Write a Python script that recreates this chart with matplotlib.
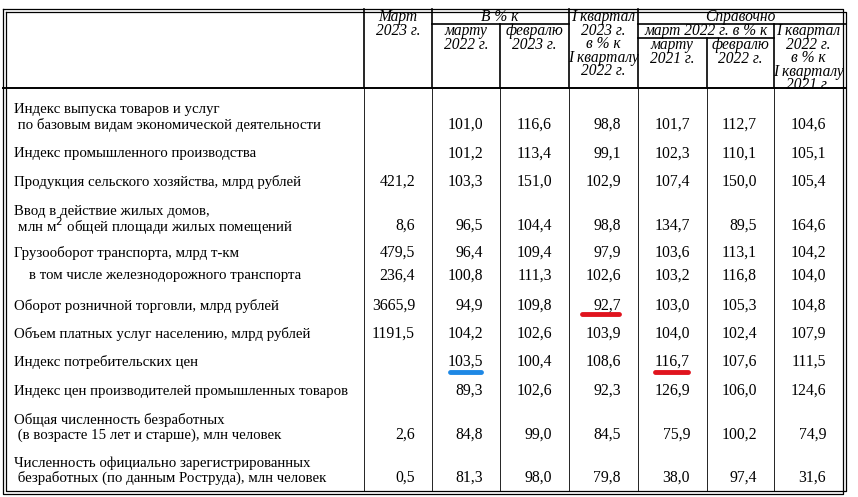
import matplotlib
matplotlib.use("Agg")
import matplotlib.pyplot as plt

labels = [
    ["Индекс выпуска товаров и услуг", " по базовым видам экономической деятельности"],
    ["Индекс промышленного производства"],
    ["Продукция сельского хозяйства, млрд рублей"],
    ["Ввод в действие жилых домов,", " млн м$^2$ общей площади жилых помещений"],
    ["Грузооборот транспорта, млрд т-км"],
    ["    в том числе железнодорожного транспорта"],
    ["Оборот розничной торговли, млрд рублей"],
    ["Объем платных услуг населению, млрд рублей"],
    ["Индекс потребительских цен"],
    ["Индекс цен производителей промышленных товаров"],
    ["Общая численность безработных", " (в возрасте 15 лет и старше), млн человек"],
    ["Численность официально зарегистрированных", " безработных (по данным Роструда), млн человек"],
]
mar2023 = ["", "", "421,2", "8,6", "479,5", "236,4", "3665,9", "1191,5", "", "", "2,6", "0,5"]
to_mar2022 = ["101,0", "101,2", "103,3", "96,5", "96,4", "100,8", "94,9", "104,2", "103,5", "89,3", "84,8", "81,3"]
to_feb2023 = ["116,6", "113,4", "151,0", "104,4", "109,4", "111,3", "109,8", "102,6", "100,4", "102,6", "99,0", "98,0"]
q1_2023 = ["98,8", "99,1", "102,9", "98,8", "97,9", "102,6", "92,7", "103,9", "108,6", "92,3", "84,5", "79,8"]
ref_mar2021 = ["101,7", "102,3", "107,4", "134,7", "103,6", "103,2", "103,0", "104,0", "116,7", "126,9", "75,9", "38,0"]
ref_feb2022 = ["112,7", "110,1", "150,0", "89,5", "113,1", "116,8", "105,3", "102,4", "107,6", "106,0", "100,2", "97,4"]
ref_q1_2022 = ["104,6", "105,1", "105,4", "164,6", "104,2", "104,0", "104,8", "107,9", "111,5", "124,6", "74,9", "31,6"]

cols = [mar2023, to_mar2022, to_feb2023, q1_2023, ref_mar2021, ref_feb2022, ref_q1_2022]
row_y = [125, 154, 182, 226, 253, 276, 306, 334, 362, 391, 435, 478]
xs = [3, 364, 432, 500, 569, 638, 707, 774, 843]

fig = plt.figure(figsize=(8.58, 4.97), dpi=100)
ax = fig.add_axes([0, 0, 1, 1])
ax.set_xlim(0, 858); ax.set_ylim(497, 0); ax.axis("off")
fs = 10.7
fsn = 11.3
fsh = 11.2
ff = "Liberation Serif"
lw = 0.9
for d in (0, 3):
    ax.plot([xs[0]+d, xs[-1]+d, xs[-1]+d, xs[0]+d, xs[0]+d],
            [9+d, 9+d, 494-d, 494-d, 9+d], color="black", lw=lw)
ax.plot([xs[0], xs[-1]+3], [88, 88], color="black", lw=1.4)
for x in xs[1:-1]:
    top = 9
    if x in (500, 774): top = 24
    if x == 707: top = 38
    ax.plot([x, x], [top, 88], color="black", lw=1.2)
    ax.plot([x, x], [88, 491], color="black", lw=0.6)
ax.plot([432, 569], [24, 24], color="black", lw=1.2)
ax.plot([638, 846], [24, 24], color="black", lw=1.2)
ax.plot([638, 774], [38, 38], color="black", lw=1.2)

hd = dict(fontsize=fsh, family=ff, style="italic", ha="center", va="top", linespacing=0.8)
ax.text(398, 9, "Март\n2023 г.", **hd)
ax.text(500, 9, "В % к", **hd)
ax.text(466, 23, "марту\n2022 г.", **hd)
ax.text(534, 23, "февралю\n2023 г.", **hd)
ax.text(603, 9, "I квартал\n2023 г.\nв % к\nI кварталу\n2022 г.", **hd)
ax.text(740, 9, "Справочно", **hd)
ax.text(706, 23, "март 2022 г. в % к", **hd)
ax.text(672, 37, "марту\n2021 г.", **hd)
ax.text(740, 37, "февралю\n2022 г.", **hd)
ax.text(808, 23, "I квартал\n2022 г.\nв % к\nI кварталу\n2021 г.", **hd)

for lab, y in zip(labels, row_y):
    if len(lab) == 2:
        ax.text(14, y - 15, lab[0], fontsize=fs, family=ff, va="center")
        ax.text(14, y, lab[1], fontsize=fs, family=ff, va="center")
    else:
        ax.text(14, y, lab[0], fontsize=fs, family=ff, va="center")
for c, col in enumerate(cols):
    for v, y in zip(col, row_y):
        ax.text(xs[c+2] - 17, y, v, fontsize=fsn, family=ff, va="center", ha="right")

ax.plot([582, 619], [314, 314], color="#e0141e", lw=3.5, solid_capstyle="round")
ax.plot([450, 481], [372, 372], color="#1e88e5", lw=3.5, solid_capstyle="round")
ax.plot([655, 688], [372, 372], color="#e0141e", lw=3.5, solid_capstyle="round")

fig.savefig("out.png", dpi=100, facecolor="white")
